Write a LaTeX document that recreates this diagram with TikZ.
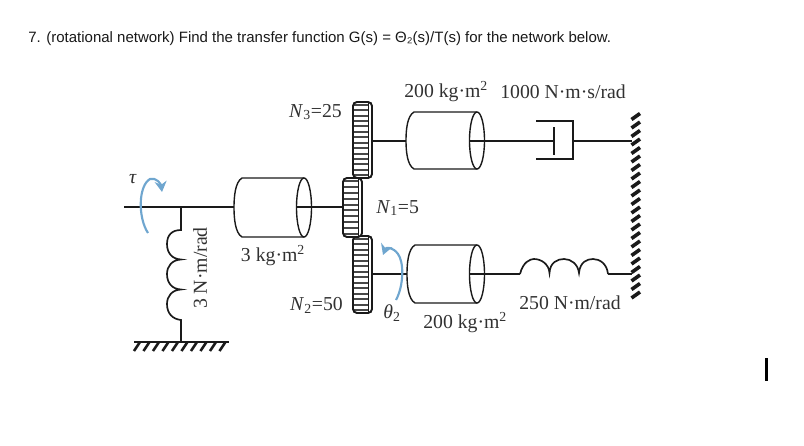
\documentclass[tikz,border=0pt]{standalone}
\usepackage{fontspec}
\setmainfont{Liberation Serif}
\newfontfamily\titlefont{Liberation Sans}
\usetikzlibrary{arrows.meta,calc}
\definecolor{curlblue}{HTML}{6FA6CF}
\definecolor{inkc}{HTML}{1A1A1A}
\tikzset{
  x=0.75pt,y=-0.75pt,
  line/.style={draw=inkc,line width=1.25pt},
  thin part/.style={draw=inkc,line width=1.05pt},
  lab/.style={inner sep=0pt,text=inkc!90,font=\fontsize{14.8}{16}\selectfont},
  curl/.style={draw=curlblue,line width=1.6pt,-{Stealth[length=8pt,width=9pt]}},
}
\newcommand{\drum}[4]{%
  \draw[thin part,fill=white] ({#2},{#3}) -- ({#1+8},{#3})
     .. controls ({#1+1},{#3+4}) and ({#1},{(#3+#4)/2-10}) .. ({#1},{(#3+#4)/2})
     .. controls ({#1},{(#3+#4)/2+10}) and ({#1+1},{#4-4}) .. ({#1+8},{#4}) -- ({#2},{#4});
  \draw[thin part] ({#2},{(#3+#4)/2}) ellipse (7.5 and {(#4-#3)/2});
}
\newcommand{\gearwheel}[4]{%
  \pgfmathsetmacro{\gcount}{int(floor((#4-#3)/5.4))}
  \pgfmathsetmacro{\gstep}{(#4-#3)/\gcount}
  \draw[draw=inkc,line width=0.9pt,fill=white,rounded corners=3pt] ({#1},{#3}) rectangle ({#2},{#4});
  \foreach \gi in {1,...,\gcount}{
    \draw[draw=inkc!80,line width=1.5pt] ({#1+1},{#3+\gi*\gstep-\gstep/2}) -- ({#2-3},{#3+\gi*\gstep-\gstep/2});
  }
  \draw[draw=inkc,line width=0.9pt] ({#2-3.5},{#3}) -- ({#2-3.5},{#4});
  \draw[draw=inkc,line width=1.4pt,rounded corners=3pt] ({#1},{#3}) rectangle ({#2},{#4});
}
\begin{document}
\begin{tikzpicture}
\useasboundingbox (0,0) rectangle (804,446);
\node[anchor=west,inner sep=0pt,text=black!90,font=\titlefont\fontsize{11.25}{13}\selectfont] (title) at (28,38.5)
  {7. (rotational network) Find the transfer function G(s) = Θ₂(s)/T(s) for the network below.};

\coordinate (inL) at (124,207);
\coordinate (jn) at (181,207);
\coordinate (dA) at (536,121);
\coordinate (dB) at (573,121);
\coordinate (dC) at (573,159);
\coordinate (dD) at (536,159);
\coordinate (pT) at (554,127);
\coordinate (pB) at (554,155);
\coordinate (pM) at (554,141);
\coordinate (dM) at (573,141);
\coordinate (wallT) at (632,141);
\coordinate (wallB) at (632,274);
\coordinate (sE) at (608,274);
\coordinate (sS) at (520,274);

\draw[line] (inL) -- (234,207);
\draw[line] (304,207) -- (344,207);
\draw[line] (372,141) -- (406,141);
\draw[line] (477,141) -- (pM);
\draw[line] (dM) -- (wallT);
\draw[line] (372,274) -- (407,274);
\draw[line] (477,274) -- (sS);
\draw[line] (sE) -- (wallB);

\drum{234}{304}{178}{237}
\drum{406}{477}{112}{169}
\drum{407}{477}{245}{303}
\draw[line] (297,207) -- (312,207);
\draw[line] (470,141) -- (484,141);
\draw[line] (470,274) -- (484,274);

\gearwheel{353}{372}{102}{178}
\gearwheel{353}{372}{236}{313}
\gearwheel{343}{362}{178}{237}

\draw[line] (dA) -- (dB) -- (dC) -- (dD);
\draw[line] (pT) -- (pB);

\draw[line] (sS) .. controls (523,262) and (530,259) .. (534,259)
  .. controls (541,259) and (549,264) .. (549.5,273)
  .. controls (550,262) and (558,259) .. (564,259)
  .. controls (571,259) and (578,264) .. (579,273)
  .. controls (580,262) and (587,259) .. (593,259)
  .. controls (600,259) and (607,264) .. (sE);

\draw[line] (jn) -- (181,230)
  .. controls (172,230) and (167,235) .. (167,244)
  .. controls (167,253) and (172,259) .. (181,259.5)
  .. controls (172,260) and (167,266) .. (167,274)
  .. controls (167,283) and (172,289) .. (181,289.5)
  .. controls (172,290) and (167,296) .. (167,304)
  .. controls (167,313) and (172,319) .. (181,320) -- (181,342);

\coordinate (gL) at (134,342);
\coordinate (gR) at (229,342);
\draw[draw=inkc,line width=0.9pt] (gL) -- (gR);
\foreach \hx in {140,149.5,...,230}{
  \draw[draw=inkc,line width=1.9pt] (\hx,342) -- (\hx-6,351);
}

\foreach \hy in {116,124.5,...,300}{
  \draw[draw=inkc,line width=2.7pt] (631.5,\hy+3.5) -- (640,\hy-2.5);
}

\draw[curl] (148,233) .. controls (138,218) and (138,186) .. (150,179)
   .. controls (156,177) and (161,184) .. (162,192);
\draw[curl] (396,300) .. controls (404,285) and (404,262) .. (398,254)
   .. controls (393,247) and (386,247) .. (383,255);

\node[lab,anchor=east] (n3) at (342,112) {\textit{N}\textsubscript{3}=25};
\node[lab,anchor=west] (n1) at (376,208) {\textit{N}\textsubscript{1}=5};
\node[lab,anchor=east] (n2) at (343,305) {\textit{N}\textsubscript{2}=50};
\node[lab,anchor=west] (j3) at (404,92) {200 kg·m\textsuperscript{2}};
\node[lab,anchor=west] (d1) at (500,92) {1000 N·m·s/rad};
\node[lab,anchor=center] (j1) at (273,256) {3 kg·m\textsuperscript{2}};
\node[lab,anchor=west] (j2) at (423,323) {200 kg·m\textsuperscript{2}};
\node[lab,anchor=west] (k2) at (519,303) {250 N·m/rad};
\node[lab,anchor=center,rotate=90] (k1) at (200,268) {3 N·m/rad};
\node[lab,anchor=center] (tau) at (133,179) {\textit{τ}};
\node[lab,anchor=center] (th) at (392,313) {\textit{θ}\textsubscript{2}};

\draw[draw=black,line width=2.25pt] (766.7,358) -- (766.7,381);
\end{tikzpicture}
\end{document}
